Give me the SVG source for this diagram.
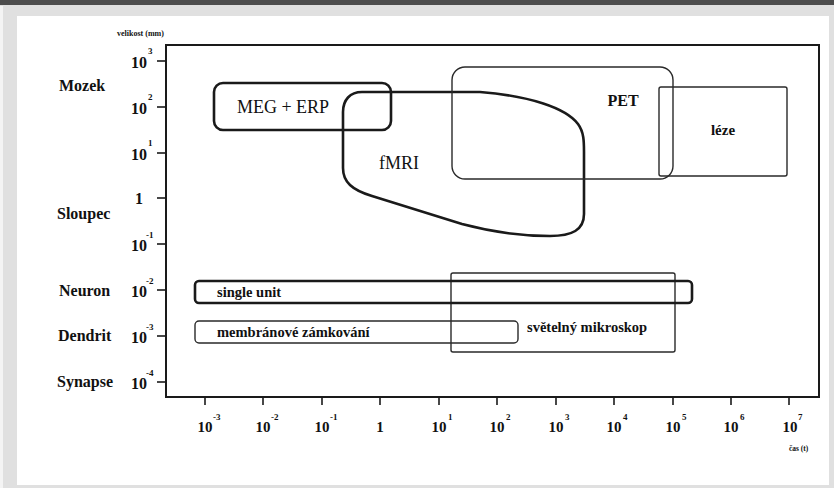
<svg xmlns="http://www.w3.org/2000/svg" width="834" height="488" viewBox="0 0 834 488">
<style>
text{font-family:"Liberation Serif","Tinos","Times New Roman","DejaVu Serif",serif;fill:#111}
.b{font-weight:bold}
.lab{font-size:16px;font-weight:bold}
.yt{font-size:16px;font-weight:bold;text-anchor:end}
.xt{font-size:15px;font-weight:bold;text-anchor:middle}
.sup{font-size:9px;font-weight:bold}
.ax{fill:none;stroke:#1a1a1a;stroke-width:2}
.tick{stroke:#1a1a1a;stroke-width:1.6}
.thick{fill:none;stroke:#1a1a1a;stroke-width:2.6}
.thin{fill:none;stroke:#2a2a2a;stroke-width:1.4}
</style>
<rect x="0" y="0" width="834" height="488" fill="#e0e0e0"/>
<rect x="0" y="0" width="834" height="5" fill="#4d4d4d"/>
<rect x="0" y="6" width="3" height="482" fill="#f4f4f4"/>
<rect x="17" y="16" width="812" height="469" fill="#ffffff"/>

<g id="axes" font-family="Liberation Serif, serif">
<rect class="ax" x="166" y="45" width="653" height="352"/>
<g class="tick">
<line x1="157" y1="61" x2="166" y2="61"/><line x1="157" y1="107" x2="166" y2="107"/>
<line x1="157" y1="153" x2="166" y2="153"/><line x1="157" y1="198" x2="166" y2="198"/>
<line x1="157" y1="244" x2="166" y2="244"/><line x1="157" y1="290" x2="166" y2="290"/>
<line x1="157" y1="336" x2="166" y2="336"/><line x1="157" y1="382" x2="166" y2="382"/>
<line x1="205" y1="397" x2="205" y2="405"/><line x1="263" y1="397" x2="263" y2="405"/>
<line x1="322" y1="397" x2="322" y2="405"/><line x1="380" y1="397" x2="380" y2="405"/>
<line x1="439" y1="397" x2="439" y2="405"/><line x1="497" y1="397" x2="497" y2="405"/>
<line x1="556" y1="397" x2="556" y2="405"/><line x1="614" y1="397" x2="614" y2="405"/>
<line x1="673" y1="397" x2="673" y2="405"/><line x1="731" y1="397" x2="731" y2="405"/>
<line x1="789" y1="397" x2="789" y2="405"/>
</g>
<text class="b" x="117" y="36" font-size="8">velikost (mm)</text>
<text class="b" x="789" y="451" font-size="7.5">čas (t)</text>

<text class="yt" x="147" y="68">10</text><text class="sup" x="148" y="54">3</text>
<text class="yt" x="147" y="114">10</text><text class="sup" x="148" y="100">2</text>
<text class="yt" x="147" y="160">10</text><text class="sup" x="148" y="146">1</text>
<text class="yt" x="143" y="204">1</text>
<text class="yt" x="147" y="251">10</text><text class="sup" x="146" y="238">-1</text>
<text class="yt" x="147" y="297">10</text><text class="sup" x="146" y="284">-2</text>
<text class="yt" x="147" y="343">10</text><text class="sup" x="146" y="330">-3</text>
<text class="yt" x="147" y="389">10</text><text class="sup" x="146" y="376">-4</text>

<text class="lab" x="59" y="91">Mozek</text>
<text class="lab" x="57" y="219">Sloupec</text>
<text class="lab" x="59" y="296">Neuron</text>
<text class="lab" x="58" y="341">Dendrit</text>
<text class="lab" x="57" y="387">Synapse</text>

<text class="xt" x="205" y="432">10</text><text class="sup" x="213" y="420">-3</text>
<text class="xt" x="263" y="432">10</text><text class="sup" x="271" y="420">-2</text>
<text class="xt" x="322" y="432">10</text><text class="sup" x="330" y="420">-1</text>
<text class="xt" x="380" y="432">1</text>
<text class="xt" x="439" y="432">10</text><text class="sup" x="448" y="420">1</text>
<text class="xt" x="497" y="432">10</text><text class="sup" x="506" y="420">2</text>
<text class="xt" x="556" y="432">10</text><text class="sup" x="565" y="420">3</text>
<text class="xt" x="614" y="432">10</text><text class="sup" x="623" y="420">4</text>
<text class="xt" x="673" y="432">10</text><text class="sup" x="682" y="420">5</text>
<text class="xt" x="731" y="432">10</text><text class="sup" x="740" y="420">6</text>
<text class="xt" x="790" y="432">10</text><text class="sup" x="798" y="420">7</text>
</g>

<g id="meg-erp">
<rect class="thick" x="214" y="83" width="177" height="47" rx="9"/>
<text x="283" y="113" font-size="18" text-anchor="middle">MEG + ERP</text>
</g>

<g id="fmri">
<path class="thick" d="M362,92 L480,92 C530,96 566,108 578,124 C584,132 584,142 584,152 L584,214 C584,230 572,236 550,236 C522,236 492,232 462,224 L372,196 C352,190 343,182 343,168 L343,112 C343,100 350,92 362,92 Z"/>
<text x="399" y="169" font-size="18" text-anchor="middle">fMRI</text>
</g>

<g id="pet">
<rect class="thin" x="452" y="67" width="221" height="112" rx="13"/>
<text class="b" x="623" y="106" font-size="16" text-anchor="middle">PET</text>
</g>

<g id="leze">
<rect class="thin" x="659" y="87" width="128" height="89" rx="2"/>
<text class="b" x="723" y="135" font-size="15" text-anchor="middle">léze</text>
</g>

<g id="svetelny-mikroskop">
<rect class="thin" x="451" y="273" width="224" height="79" rx="2"/>
<text class="b" x="527" y="332" font-size="14.5">světelný mikroskop</text>
</g>

<g id="single-unit">
<rect class="thick" x="195" y="281" width="497" height="22" rx="4"/>
<text class="b" x="217" y="297" font-size="14.5">single unit</text>
</g>

<g id="membranove-zamkovani">
<rect class="thin" x="195" y="321" width="323" height="22" rx="4"/>
<text class="b" x="217" y="337" font-size="14.5">membránové zámkování</text>
</g>
<g id="connectors"></g>
</svg>
